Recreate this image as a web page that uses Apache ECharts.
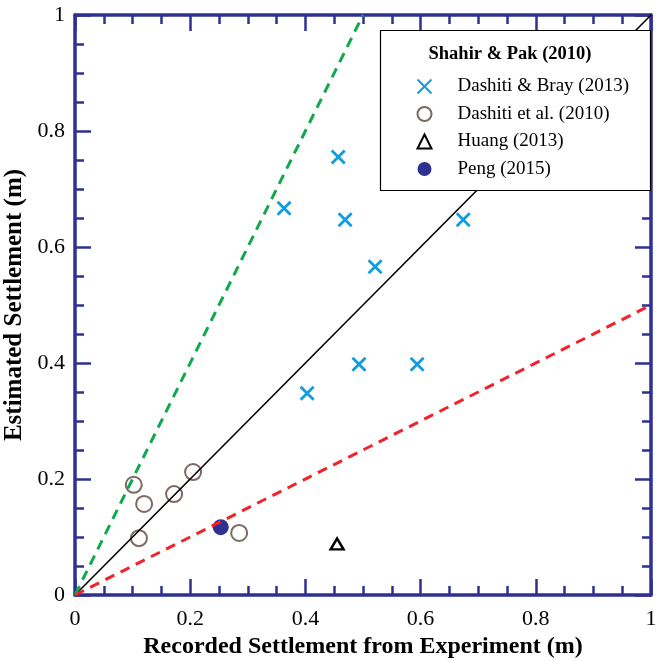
<!DOCTYPE html>
<html>
<head>
<meta charset="utf-8">
<script src="https://cdn.jsdelivr.net/npm/echarts@6/dist/echarts.min.js"></script>
<style>
  html, body { margin: 0; padding: 0; background: #fff; }
  #chart { width: 657px; height: 661px; }
</style>
</head>
<body>
<div id="chart"></div>
<script>
// Recorded vs. estimated settlement, in metres: [recorded, estimated]
const dashitiBray2013 = [
  [0.363, 0.667], [0.457, 0.755], [0.469, 0.647], [0.521, 0.566],
  [0.674, 0.647], [0.403, 0.348], [0.493, 0.398], [0.594, 0.398]
];
const dashitiEtAl2010 = [
  [0.102, 0.190], [0.120, 0.157], [0.111, 0.098], [0.172, 0.174],
  [0.205, 0.212], [0.285, 0.107]
];
const huang2013 = [[0.455, 0.088]];
const peng2015 = [[0.253, 0.117]];

// Reference lines: 1:1, 2:1 and 1:2
const lineOneToOne = [[0, 0], [1, 1]];
const lineTwoToOne = [[0, 0], [0.5, 1]];
const lineOneToTwo = [[0, 0], [1, 0.5]];

const tickValues = [0, 0.2, 0.4, 0.6, 0.8, 1];
const legendTitle = 'Shahir & Pak (2010)';

const AXIS_BLUE = '#2e3192';
const SERIF = '"Liberation Serif", "Times New Roman", serif';

function axisBase(showLabels, type) {
  return {
    type: 'value',
    min: 0, max: 1, interval: 0.2,
    axisLine: { show: true, onZero: false, lineStyle: { color: AXIS_BLUE, width: 3.5 } },
    axisTick: { show: true, inside: true, length: 16, lineStyle: { color: AXIS_BLUE, width: 2.5 } },
    minorTick: { show: true, splitNumber: 4, length: 9, lineStyle: { color: AXIS_BLUE, width: 2.5 } },
    splitLine: { show: false },
    axisLabel: {
      show: showLabels, color: '#000', fontFamily: SERIF, fontSize: 22,
      margin: type === 'x' ? 13 : 10,
      formatter: v => (tickValues.indexOf(+v.toFixed(1)) >= 0 ? String(+v.toFixed(1)) : '')
    }
  };
}

const chart = echarts.init(document.getElementById('chart'), null, { renderer: 'canvas' });

const xMain = Object.assign(axisBase(true, 'x'), {
  position: 'bottom',
  name: 'Recorded Settlement from Experiment (m)',
  nameLocation: 'middle', nameGap: 39,
  nameTextStyle: { color: '#000', fontFamily: SERIF, fontWeight: 'bold', fontSize: 24 }
});
const xTop = Object.assign(axisBase(false, 'x'), { position: 'top' });
const yMain = Object.assign(axisBase(true, 'y'), {
  position: 'left',
  name: 'Estimated Settlement (m)',
  nameLocation: 'middle', nameGap: 42,
  nameTextStyle: { color: '#000', fontFamily: SERIF, fontWeight: 'bold', fontSize: 25 }
});
const yRight = Object.assign(axisBase(false, 'y'), { position: 'right' });

const xMark = 'path://M0,0L10,10M10,0L0,10';

chart.setOption({
  animation: false,
  backgroundColor: '#fff',
  grid: { left: 75, right: 6, top: 15, bottom: 66, containLabel: false, outerBoundsMode: 'none' },
  xAxis: [xMain, xTop],
  yAxis: [yMain, yRight],
  graphic: [{
    type: 'rect', z: 3,
    shape: { x: 380.5, y: 30.5, width: 270, height: 160 },
    style: { fill: '#fff', stroke: '#000', lineWidth: 1.2 }
  }, {
    type: 'text', z: 5,
    x: 510, y: 54,
    style: {
      text: legendTitle, fill: '#000', font: 'bold 18.5px ' + SERIF,
      align: 'center', verticalAlign: 'middle'
    }
  }],
  legend: {
    orient: 'vertical',
    left: 380, top: 30,
    padding: [47, 10, 15, 35],
    itemWidth: 14, itemHeight: 14, itemGap: 8.5,
    textStyle: { color: '#000', fontFamily: SERIF, fontSize: 19, padding: [0, 0, 0, 21] },
    data: ['Dashiti & Bray (2013)', 'Dashiti et al. (2010)', 'Huang (2013)', 'Peng (2015)'],
    z: 6
  },
  series: [
    {
      name: 'Dashiti & Bray (2013)', type: 'scatter', data: dashitiBray2013,
      symbol: xMark, symbolSize: 13,
      itemStyle: { color: 'none', borderColor: '#0f9de0', borderWidth: 2.8, opacity: 1 },
      z: 2
    },
    {
      name: 'Dashiti et al. (2010)', type: 'scatter', data: dashitiEtAl2010,
      symbol: 'circle', symbolSize: 16,
      itemStyle: { color: 'none', borderColor: '#7b6a63', borderWidth: 2, opacity: 1 },
      z: 2
    },
    {
      name: 'Huang (2013)', type: 'scatter', data: huang2013,
      symbol: 'triangle', symbolSize: [13, 11],
      itemStyle: { color: 'none', borderColor: '#000', borderWidth: 2.4, opacity: 1 },
      z: 2
    },
    {
      name: 'Peng (2015)', type: 'scatter', data: peng2015,
      symbol: 'circle', symbolSize: 16,
      itemStyle: { color: '#2e3192', opacity: 1 },
      z: 2
    },
    {
      type: 'line', data: lineOneToOne, symbol: 'none', silent: true,
      lineStyle: { color: '#000', width: 1.6 }, z: 2.5
    },
    {
      type: 'line', data: lineTwoToOne, symbol: 'none', silent: true,
      lineStyle: { color: '#11a84e', width: 3, type: [10, 7] }, z: 2.5
    },
    {
      type: 'line', data: lineOneToTwo, symbol: 'none', silent: true,
      lineStyle: { color: '#f2222b', width: 3, type: [10, 7] }, z: 2.5
    }
  ]
});
</script>
</body>
</html>
